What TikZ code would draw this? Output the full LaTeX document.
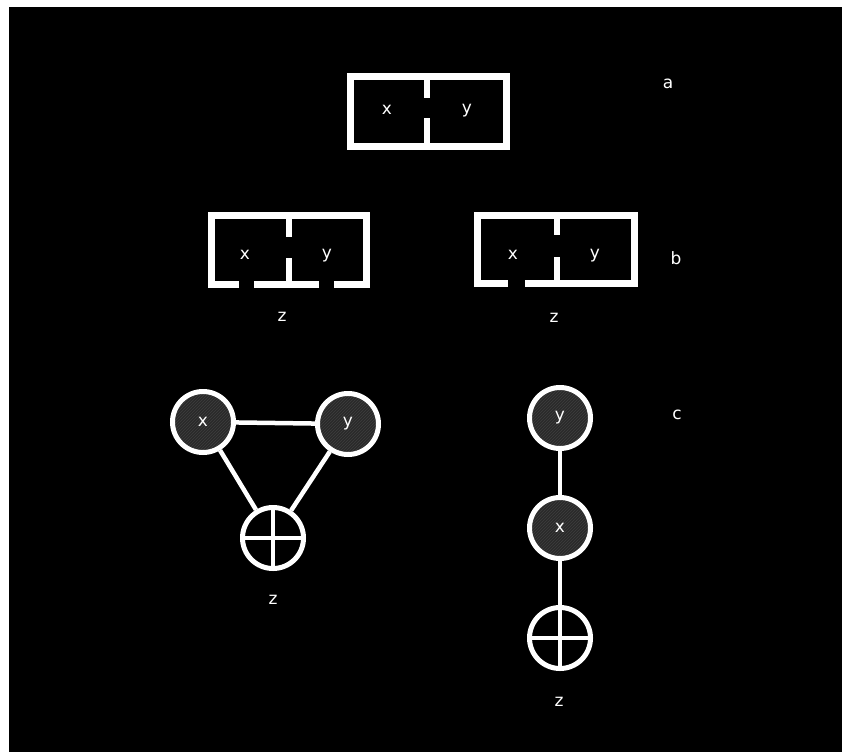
\documentclass[tikz,border=0pt]{standalone}
\usepackage{fontspec}
\setmainfont{DejaVu Sans}
\usetikzlibrary{patterns}
\definecolor{shade}{RGB}{42,42,42}
\definecolor{hatch}{RGB}{62,62,62}
\begin{document}
\begin{tikzpicture}[x=1pt,y=-1pt,
  wall/.style={draw=white,line width=6.5pt,line cap=rect,line join=miter},
  lbl/.style={text=white,font=\fontsize{17}{17}\selectfont,inner sep=0pt},
  var/.style={circle,draw=white,line width=5pt,minimum size=61pt,inner sep=0pt,
    preaction={fill=shade},pattern=north east lines,pattern color=hatch,
    text=white,font=\fontsize{17}{17}\selectfont},
  sum/.style={circle,draw=white,line width=5pt,minimum size=61pt,inner sep=0pt,fill=black},
  edge/.style={draw=white,line width=4.5pt}]
\useasboundingbox (0,0) rectangle (842,752);
\fill[white] (0,0) rectangle (842,752);
\fill[black] (9,7) rectangle (842,752);

% a
\draw[wall] (350.5,76.5) rectangle (506.5,146.5);
\draw[wall,line cap=butt] (427,76.5) -- (427,98);
\draw[wall,line cap=butt] (427,118) -- (427,146.5);
\node[lbl] (ax) at (387,110) {x};
\node[lbl] (ay) at (467,111) {y};
\node[lbl] (la) at (668,84) {a};

% b left
\draw[wall] (236,284.5) -- (211.5,284.5) -- (211.5,215.5) -- (366.5,215.5) -- (366.5,284.5) -- (337,284.5);
\draw[wall] (257,284.5) -- (316,284.5);
\draw[wall,line cap=butt] (289,215.5) -- (289,237);
\draw[wall,line cap=butt] (289,258) -- (289,284.5);
\node[lbl] (blx) at (245,255) {x};
\node[lbl] (bly) at (327,256) {y};
\node[lbl] (blz) at (282,317) {z};

% b right
\draw[wall] (505,283.5) -- (477.5,283.5) -- (477.5,215.5) -- (634.5,215.5) -- (634.5,283.5) -- (528,283.5);
\draw[wall,line cap=butt] (557,215.5) -- (557,235);
\draw[wall,line cap=butt] (557,257) -- (557,283.5);
\node[lbl] (brx) at (513,255) {x};
\node[lbl] (bry) at (595,256) {y};
\node[lbl] (brz) at (554,318) {z};
\node[lbl] (lb) at (676,258) {b};

% c left
\node[var] (cx) at (203,422) {x};
\node[var] (cy) at (348,424) {y};
\node[sum] (cz) at (273,538) {};
\draw[white,line width=4.5pt] (cz.north) -- (cz.south) (cz.west) -- (cz.east);
\draw[edge] (cx) -- (cy);
\draw[edge] (cx) -- (cz);
\draw[edge] (cy) -- (cz);
\node[lbl] (czl) at (273,600) {z};

% c right
\node[var] (dy) at (560,418) {y};
\node[var] (dx) at (560,528) {x};
\node[sum] (dz) at (560,638) {};
\draw[white,line width=4.5pt] (dz.north) -- (dz.south) (dz.west) -- (dz.east);
\draw[edge] (dy) -- (dx);
\draw[edge] (dx) -- (dz);
\node[lbl] (dzl) at (559,702) {z};
\node[lbl] (lc) at (677,415) {c};
\end{tikzpicture}
\end{document}
